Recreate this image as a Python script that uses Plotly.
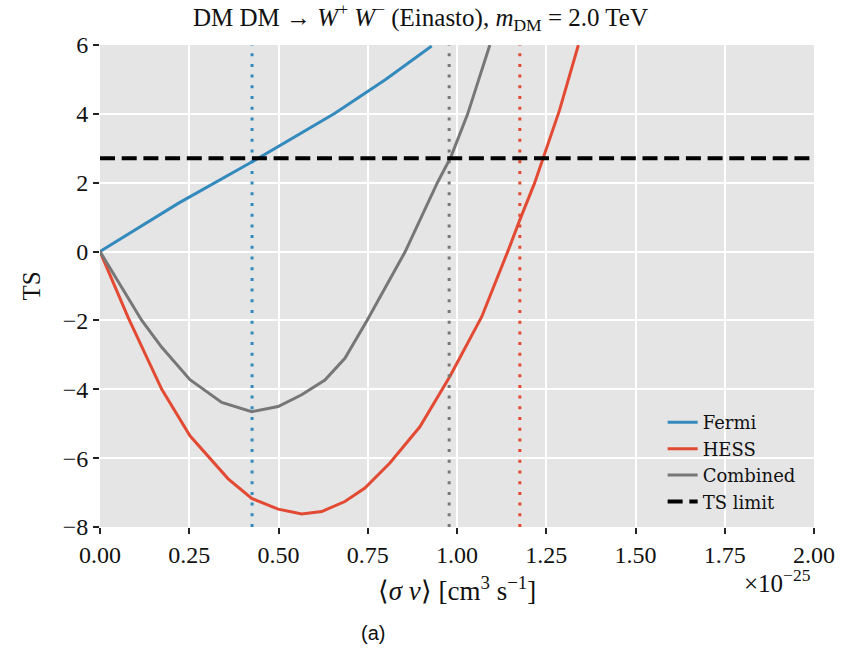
import plotly.graph_objects as go

# ---- data (cross-section in units of 1e-25 cm^3 s^-1) ----
fermi_x = [0.0, 0.219, 0.425, 0.658, 0.80, 0.929]
fermi_ts = [0.0, 1.40, 2.60, 4.02, 5.00, 5.97]

hess_x = [0.0, 0.079, 0.173, 0.252, 0.359, 0.425, 0.499, 0.565, 0.621, 0.686, 0.742,
          0.812, 0.896, 0.980, 1.069, 1.111, 1.144, 1.176, 1.217, 1.287, 1.340]
hess_ts = [0.0, -1.92, -4.00, -5.35, -6.60, -7.17, -7.48, -7.62, -7.55, -7.26, -6.87,
           -6.14, -5.09, -3.63, -1.90, -0.83, 0.05, 0.92, 1.98, 4.10, 6.00]

comb_x = [0.0, 0.079, 0.117, 0.173, 0.252, 0.341, 0.425, 0.499, 0.565, 0.630, 0.686,
          0.748, 0.855, 0.945, 0.983, 1.030, 1.092]
comb_ts = [0.0, -1.36, -2.00, -2.78, -3.72, -4.38, -4.65, -4.50, -4.16, -3.73, -3.10,
           -2.00, 0.00, 2.00, 2.75, 4.00, 6.00]

limit_names = ["Fermi", "HESS", "Combined"]
limit_values = [0.426, 1.176, 0.978]
ts_limit = 2.71

x_range = [0.0, 2.0]
y_range = [-8, 6]
x_ticks = [0.0, 0.25, 0.5, 0.75, 1.0, 1.25, 1.5, 1.75, 2.0]
x_ticklabels = ["0.00", "0.25", "0.50", "0.75", "1.00", "1.25", "1.50", "1.75", "2.00"]
y_ticks = [-8, -6, -4, -2, 0, 2, 4, 6]
y_ticklabels = ["\u22128", "\u22126", "\u22124", "\u22122", "0", "2", "4", "6"]

colors = {"Fermi": "#348ABD", "HESS": "#E24A33", "Combined": "#777777"}

SERIF = "Liberation Serif, Times New Roman, serif"

fig = go.Figure()
for name, xs, ys in [("Fermi", fermi_x, fermi_ts), ("HESS", hess_x, hess_ts),
                     ("Combined", comb_x, comb_ts)]:
    fig.add_trace(go.Scatter(x=xs, y=ys, mode="lines", name=name,
                             line=dict(color=colors[name], width=3)))

for name, v in zip(limit_names, limit_values):
    fig.add_trace(go.Scatter(x=[v, v], y=y_range, mode="lines", showlegend=False,
                             line=dict(color=colors[name], width=3, dash="3px,7.7px"),
                             hoverinfo="skip"))

fig.add_trace(go.Scatter(x=x_range, y=[ts_limit, ts_limit], mode="lines", name="TS limit",
                         line=dict(color="black", width=4, dash="15px,6.7px")))

axis_common = dict(showgrid=True, gridcolor="white", gridwidth=2, zeroline=False,
                   showline=False, ticks="outside", ticklen=6, tickwidth=1.5,
                   tickcolor="#222222", automargin=False,
                   tickfont=dict(family=SERIF, size=24, color="#111111"))

fig.update_layout(
    width=841, height=650,
    margin=dict(l=100, r=27, t=45, b=123),
    paper_bgcolor="white", plot_bgcolor="#E5E5E5",
    font=dict(family=SERIF, color="#111111"),
    title=dict(text="DM DM \u2192 <i>W</i><sup>+</sup> <i>W</i><sup>\u2212</sup> (Einasto), "
                    "<i>m</i><sub>DM</sub> = 2.0 TeV",
               x=0.5, xref="container", xanchor="center", yref="container",
               y=0.974, yanchor="middle",
               font=dict(family=SERIF, size=25, color="#111111")),
    xaxis=dict(range=x_range, tickvals=x_ticks, ticktext=x_ticklabels,
               title=dict(text="\u27e8<i>\u03c3</i> <i>\u03bd</i>\u27e9 [cm<sup>3</sup> s<sup>\u22121</sup>]",
                          font=dict(family=SERIF, size=27), standoff=14),
               **axis_common),
    yaxis=dict(range=y_range, tickvals=y_ticks, ticktext=y_ticklabels,
               title=dict(text="TS", font=dict(family=SERIF, size=25), standoff=14),
               **axis_common),
    legend=dict(x=0.788, y=0.255, xanchor="left", yanchor="top",
                bgcolor="rgba(0,0,0,0)", borderwidth=0,
                font=dict(family="DejaVu Serif, serif", size=18, color="#111111"),
                tracegroupgap=0),
    showlegend=True,
)

fig.add_annotation(text="\u00d710<sup>\u221225</sup>", xref="paper", yref="paper",
                   x=0.999, y=-0.112, xanchor="right", yanchor="middle", showarrow=False,
                   font=dict(family=SERIF, size=25, color="#111111"))
fig.add_annotation(text="(a)", xref="paper", yref="paper",
                   x=0.382, y=-0.219, xanchor="center", yanchor="middle", showarrow=False,
                   font=dict(family="Liberation Sans, Arial, sans-serif", size=20, color="#111111"))

fig.write_html("out.html", config={"displayModeBar": False},
               post_script="document.body.style.margin='0';")
